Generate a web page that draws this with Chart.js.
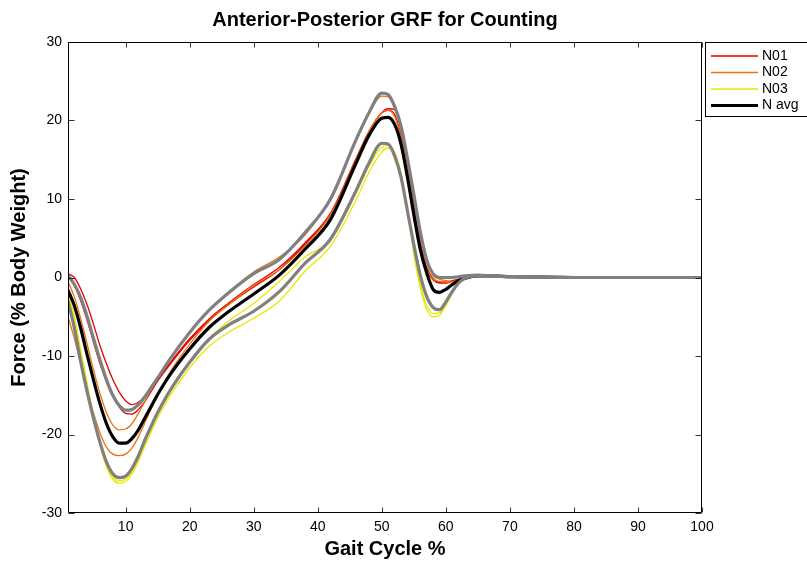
<!DOCTYPE html>
<html>
<head>
<meta charset="utf-8">
<script src="https://cdn.jsdelivr.net/npm/chart.js@4.4.0/dist/chart.umd.min.js"></script>
<style>
html,body{margin:0;padding:0;background:#fff;}
#wrap{width:807px;height:562px;}
</style>
</head>
<body>
<div id="wrap"><canvas id="c" width="807" height="562"></canvas></div>
<script>
const chartTitle = 'Anterior-Posterior GRF for Counting';
const xTitle = 'Gait Cycle %';
const yTitle = 'Force (% Body Weight)';
const xTickValues = [10,20,30,40,50,60,70,80,90,100];
const yTickValues = [-30,-20,-10,0,10,20,30];

const gaitPct = [1,2,3,4,5,6,7,8,9,10,11,12,13,14,15,17,20,23,26,30,34,38,42,46,48,50,51,52,53,54,55,56,57,58,59,60,61,62,63,65,67,70,80,90,100];

const n01a = [0.5,0.0,-1.5,-3.5,-6.0,-8.7,-11.0,-13.0,-14.6,-15.7,-16.2,-15.9,-15.2,-14.2,-13.0,-10.8,-7.8,-5.3,-3.3,-0.9,1.3,4.4,8.2,15.2,18.6,21.0,21.5,21.4,18.8,14.2,9.2,4.6,1.3,-0.1,-0.6,-0.6,-0.4,-0.2,0.0,0.2,0.2,0.1,0.0,0.0,0.0];
const n01b = [0.0,-1.0,-3.0,-5.5,-8.3,-11.0,-13.3,-15.2,-16.5,-17.3,-17.4,-16.8,-15.8,-14.5,-13.2,-11.0,-8.0,-5.5,-3.5,-1.2,1.0,4.2,8.0,15.0,18.6,21.0,21.3,20.8,18.0,13.5,8.5,4.0,1.0,-0.3,-0.7,-0.7,-0.5,-0.3,-0.1,0.2,0.2,0.1,0.0,0.0,0.0];
const n02a = [-0.5,-2.5,-5.3,-8.5,-11.8,-14.8,-17.2,-18.8,-19.4,-19.3,-18.6,-17.3,-15.8,-14.3,-12.9,-10.3,-7.0,-4.2,-1.9,0.7,2.6,5.4,10.2,17.4,20.9,23.1,23.0,21.6,19.0,15.0,10.3,5.5,2.0,0.3,-0.2,-0.4,-0.5,-0.4,-0.2,0.2,0.2,0.1,0.0,0.0,0.0];
const n02b = [-5.0,-7.8,-11.0,-14.3,-17.3,-19.8,-21.6,-22.5,-22.7,-22.5,-21.7,-20.3,-18.5,-16.7,-15.0,-12.0,-8.5,-5.6,-3.5,-1.0,1.0,4.0,8.0,15.0,18.6,21.0,21.3,20.5,17.8,13.5,8.5,4.0,1.0,-0.2,-0.5,-0.6,-0.6,-0.4,-0.2,0.2,0.2,0.1,0.0,0.0,0.0];
const n03a = [-1.8,-5.0,-9.3,-13.5,-17.5,-21.0,-23.8,-25.4,-25.9,-25.7,-24.7,-23.0,-21.1,-19.2,-17.5,-14.6,-10.8,-7.8,-5.6,-3.3,-0.5,2.6,4.8,10.8,14.2,16.6,16.8,16.0,13.3,8.8,3.5,-0.8,-3.5,-4.6,-4.5,-3.4,-1.8,-0.6,0.0,0.2,0.2,0.1,0.0,0.0,0.0];
const n03b = [-2.3,-5.5,-9.8,-14.0,-18.0,-21.4,-24.1,-25.7,-26.2,-26.0,-25.0,-23.4,-21.5,-19.6,-17.9,-15.0,-11.5,-8.8,-7.0,-5.2,-3.0,0.8,4.0,9.9,13.4,16.0,16.5,15.8,13.0,8.4,3.0,-1.3,-4.0,-5.0,-4.8,-3.6,-2.0,-0.7,-0.1,0.2,0.2,0.1,0.0,0.0,0.0];
const nAvg = [-1.6,-3.6,-6.5,-9.9,-13.1,-16.1,-18.6,-20.3,-21.1,-21.1,-20.5,-19.4,-17.9,-16.4,-14.9,-12.3,-9.1,-6.4,-4.4,-2.1,0.3,3.6,7.4,14.6,18.1,20.3,20.4,19.5,17.0,12.8,8.0,3.6,0.6,-1.5,-1.9,-1.5,-0.9,-0.4,-0.1,0.2,0.2,0.1,0.0,0.0,0.0];
const nAvgPlusSd = [0.3,-0.9,-2.6,-5.0,-7.8,-10.5,-13.0,-15.0,-16.3,-16.9,-16.8,-16.2,-15.2,-14.0,-12.8,-10.3,-7.0,-4.2,-2.0,0.5,2.3,5.7,10.0,17.6,21.0,23.5,23.3,21.8,19.3,15.2,10.6,5.9,2.3,0.5,0.0,0.0,0.0,0.1,0.2,0.3,0.2,0.1,0.0,0.0,0.0];
const nAvgMinusSd = [-3.0,-6.5,-10.8,-14.6,-18.0,-21.0,-23.5,-25.0,-25.5,-25.3,-24.3,-22.7,-20.7,-18.9,-17.2,-14.3,-10.8,-7.9,-6.1,-4.3,-1.8,1.8,4.9,11.1,14.6,17.1,17.0,15.5,12.8,8.5,4.2,0.3,-2.4,-3.8,-4.1,-3.1,-1.8,-0.7,-0.1,0.2,0.2,0.1,0.0,0.0,0.0];

const RED = '#e00000', ORANGE = '#ee7010', YELLOW = '#e8e800', BLACK = '#000000', GRAY = '#808080';
const FONT = '"Liberation Sans", Arial, Helvetica, sans-serif';

function pts(arr){ return arr.map((v,i)=>({x:gaitPct[i], y:v})); }
function ds(label, arr, color, width, order, legend){
  return {label, data:pts(arr), borderColor:color, backgroundColor:color, borderWidth:width,
          pointRadius:0, fill:false, cubicInterpolationMode:'monotone', order, inLegend:legend};
}

const datasets = [
  ds('N01', n01a, RED, 1.3, 9, true),
  ds('N01', n01b, RED, 1.3, 9, false),
  ds('N02', n02a, ORANGE, 1.3, 8, true),
  ds('N02', n02b, ORANGE, 1.3, 8, false),
  ds('N03', n03a, YELLOW, 1.3, 7, true),
  ds('N03', n03b, YELLOW, 1.3, 7, false),
  ds('N avg', nAvg, BLACK, 3.2, 2, true),
  ds('N avg + SD', nAvgPlusSd, GRAY, 3.2, 1, false),
  ds('N avg - SD', nAvgMinusSd, GRAY, 3.2, 1, false)
];

const framePlugin = {
  id:'frame',
  afterDraw(chart){
    const {ctx, chartArea:a, scales:{x, y}} = chart;
    ctx.save();
    ctx.strokeStyle = '#000';
    ctx.lineWidth = 1;
    const L = Math.round(a.left)+0.5, R = Math.round(a.right)-0.5, T = Math.round(a.top)+0.5, B = Math.round(a.bottom)-0.5;
    ctx.beginPath();
    ctx.rect(L, T, R-L, B-T);
    ctx.stroke();
    ctx.lineWidth = 0.8;
    ctx.beginPath();
    xTickValues.forEach(v=>{
      const px = Math.round(x.getPixelForValue(v))+0.5;
      ctx.moveTo(px, B); ctx.lineTo(px, B-5);
      ctx.moveTo(px, T); ctx.lineTo(px, T+5);
    });
    yTickValues.forEach(v=>{
      const py = Math.round(y.getPixelForValue(v))+0.5;
      ctx.moveTo(L, py); ctx.lineTo(L+6, py);
      ctx.moveTo(R, py); ctx.lineTo(R-6, py);
    });
    ctx.stroke();

    // title
    ctx.fillStyle = '#000';
    ctx.font = 'bold 20px ' + FONT;
    ctx.textAlign = 'center';
    ctx.textBaseline = 'middle';
    ctx.fillText(chartTitle, (a.left + a.right)/2, 20);

    // legend
    const items = chart.data.datasets.filter(d=>d.inLegend);
    const bx = 705.5, by = 42.5, bw = 120, rowH = 16.5;
    const bh = 6 + items.length*rowH + 2;
    ctx.fillStyle = '#fff';
    ctx.fillRect(bx, by, bw, bh);
    ctx.lineWidth = 1;
    ctx.strokeStyle = '#000';
    ctx.strokeRect(bx, by, bw, bh);
    ctx.font = '14px ' + FONT;
    ctx.textAlign = 'left';
    items.forEach((d,i)=>{
      const cy = by + 13.5 + i*rowH;
      ctx.strokeStyle = d.borderColor;
      ctx.lineWidth = d.borderWidth;
      ctx.beginPath();
      ctx.moveTo(711, cy); ctx.lineTo(758, cy);
      ctx.stroke();
      ctx.fillStyle = '#000';
      ctx.fillText(d.label, 762, cy);
    });
    ctx.restore();
  }
};

new Chart(document.getElementById('c'), {
  type:'line',
  data:{datasets},
  options:{
    responsive:false,
    animation:false,
    devicePixelRatio:1,
    layout:{padding:{left:0, right:105, top:42, bottom:0}},
    plugins:{legend:{display:false}, tooltip:{enabled:false}, title:{display:false}},
    scales:{
      x:{
        type:'linear', min:1, max:100,
        afterBuildTicks(s){ s.ticks = xTickValues.map(v=>({value:v})); },
        afterFit(s){ s.height = 49; },
        grid:{display:false, drawTicks:false},
        border:{display:false},
        ticks:{color:'#000', font:{family:FONT, size:14}, padding:6, maxRotation:0, autoSkip:false},
        title:{display:true, text:xTitle, color:'#000', font:{family:FONT, size:20, weight:'bold'}, padding:{top:0,bottom:1}}
      },
      y:{
        type:'linear', min:-30, max:30,
        afterBuildTicks(s){ s.ticks = yTickValues.map(v=>({value:v})); },
        afterFit(s){ s.width = 68; },
        grid:{display:false, drawTicks:false},
        border:{display:false},
        ticks:{color:'#000', font:{family:FONT, size:14}, padding:6},
        title:{display:true, text:yTitle, color:'#000', font:{family:FONT, size:20, weight:'bold'}, padding:{top:7,bottom:0}}
      }
    }
  },
  plugins:[framePlugin]
});
</script>
</body>
</html>
